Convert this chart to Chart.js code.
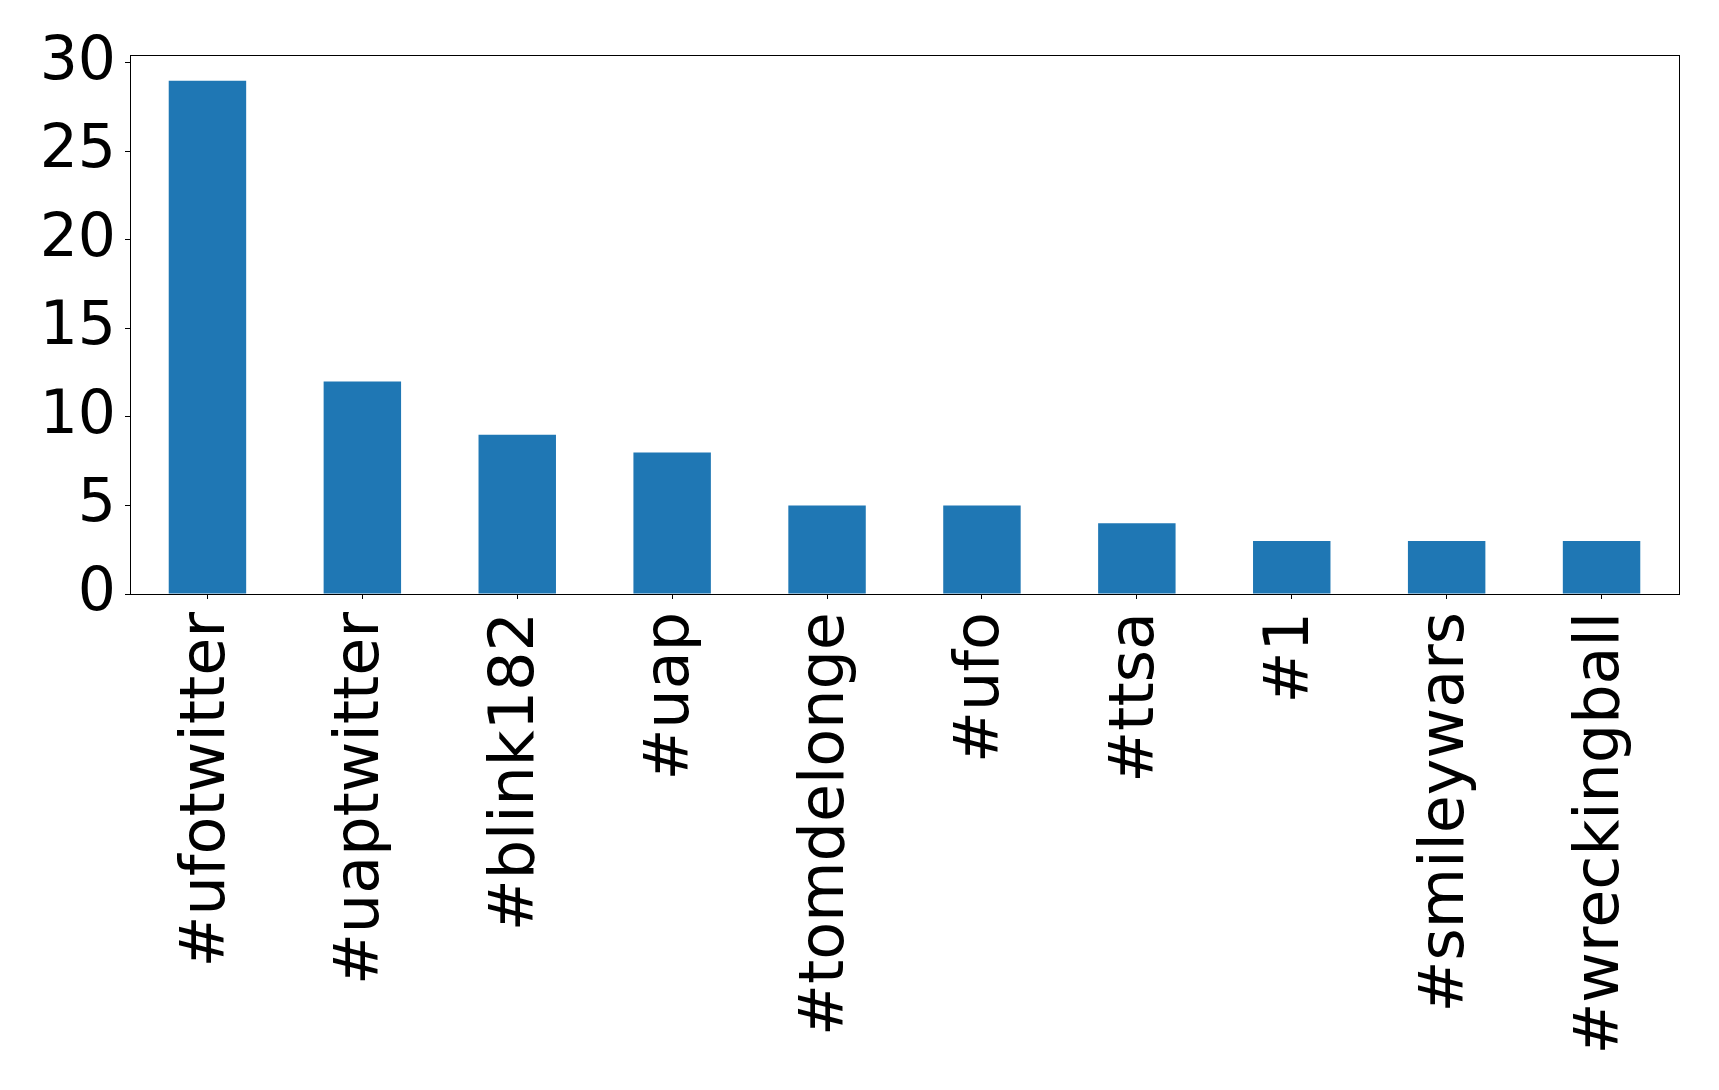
<!DOCTYPE html>
<html>
<head>
<meta charset="utf-8">
<script src="https://cdn.jsdelivr.net/npm/chart.js@4.4.1/dist/chart.umd.min.js"></script>
<style>
  html, body { margin: 0; padding: 0; background: #fff; }
  #wrap { width: 1719px; height: 1090px; }
</style>
</head>
<body>
<div id="wrap"><canvas id="tagChart"></canvas></div>
<script>
const hashtags = [
  "#ufotwitter",
  "#uaptwitter",
  "#blink182",
  "#uap",
  "#tomdelonge",
  "#ufo",
  "#ttsa",
  "#1",
  "#smileywars",
  "#wreckingball",
];
const counts = [29, 12, 9, 8, 5, 5, 4, 3, 3, 3];
const yTicks = [0, 5, 10, 15, 20, 25, 30];

// matplotlib-style frame round the plot area
const frameBox = {
  id: "frameBox",
  afterDraw(chart) {
    const { ctx, chartArea } = chart;
    ctx.save();
    ctx.strokeStyle = "#000";
    ctx.lineWidth = 1;
    ctx.strokeRect(
      chartArea.left + 0.5,
      chartArea.top + 0.5,
      chartArea.right - chartArea.left,
      chartArea.bottom - chartArea.top,
    );
    ctx.restore();
  },
};

const family = "'DejaVu Sans', sans-serif";

new Chart(document.getElementById("tagChart"), {
  type: "bar",
  data: {
    labels: hashtags,
    datasets: [
      {
        data: counts,
        backgroundColor: "#1f77b4",
        borderWidth: 0,
        barPercentage: 0.5,
        categoryPercentage: 1,
      },
    ],
  },
  options: {
    responsive: true,
    maintainAspectRatio: false,
    animation: false,
    devicePixelRatio: 1,
    layout: { padding: { top: 55, right: 40, left: 0, bottom: 0 } },
    plugins: {
      legend: { display: false },
      tooltip: { enabled: false },
    },
    scales: {
      x: {
        offset: true,
        grid: {
          offset: false,
          drawOnChartArea: false,
          color: "#000",
          tickLength: 5,
        },
        border: { color: "#000", width: 1 },
        ticks: {
          color: "#000",
          font: { family, size: 62 },
          minRotation: 90,
          maxRotation: 90,
          autoSkip: false,
          padding: 13,
        },
        afterFit(scale) {
          scale.height = 496;
        },
      },
      y: {
        min: 0,
        max: 30.45,
        bounds: "data",
        grid: {
          drawOnChartArea: false,
          color: "#000",
          tickLength: 5,
        },
        border: { color: "#000", width: 1 },
        afterBuildTicks(scale) {
          scale.ticks = yTicks.map((v) => ({ value: v }));
        },
        ticks: {
          color: "#000",
          font: { family, size: 60 },
          padding: 9,
          includeBounds: false,
        },
        afterFit(scale) {
          scale.width = 130;
        },
      },
    },
  },
  plugins: [frameBox],
});
</script>
</body>
</html>
